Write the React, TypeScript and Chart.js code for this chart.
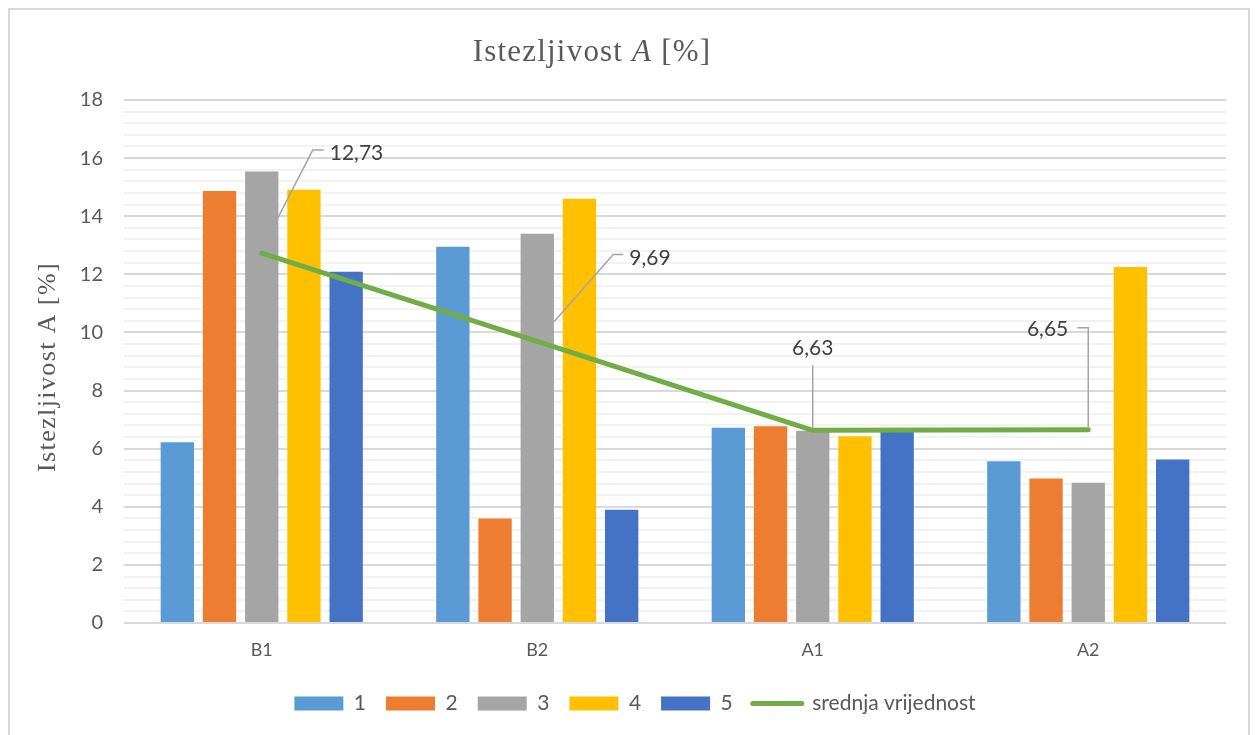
import React, { useEffect, useRef } from 'react';
import { Chart, registerables } from 'chart.js';

Chart.register(...registerables);

const categories = ['B1', 'B2', 'A1', 'A2'];
const seriesNames = ['1', '2', '3', '4', '5'];
const series1 = [6.22, 12.95, 6.72, 5.57];
const series2 = [14.87, 3.6, 6.77, 4.97];
const series3 = [15.54, 13.4, 6.62, 4.83];
const series4 = [14.91, 14.6, 6.43, 12.25];
const series5 = [12.09, 3.9, 6.61, 5.63];
const meanName = 'srednja vrijednost';
const meanValues = [12.73, 9.69, 6.63, 6.65];
const meanLabels = ['12,73', '9,69', '6,63', '6,65'];

const barColors = ['#5b9bd5', '#ed7d31', '#a5a5a5', '#ffc000', '#4472c4'];
const lineColor = '#70ad47';
const SANS = 'Lato, "Open Sans", sans-serif';
const SERIF = '"Liberation Serif", "Times New Roman", serif';

// leader line geometry relative to each mean point (pixels)
const leaderStyles = [
  { path: [[16, -35], [51, -103], [62, -103]], text: [68, -100], align: 'left' },
  { path: [[17, -20], [76, -87], [86, -87]], text: [92, -83], align: 'left' },
  { path: [[0, -65], [0, -2]], text: [0, -82], align: 'center' },
  { path: [[-11, -102], [0, -102], [0, -2]], text: [-20, -101], align: 'right' },
];

const isMajor = (v: number) => Math.abs(v / 2 - Math.round(v / 2)) < 1e-6;

const decorPlugin = {
  id: 'decor',
  afterLayout(chart: any) {
    const lg = chart.legend;
    if (lg) {
      lg.left += 17;
      lg.right += 17;
      if (lg.legendHitBoxes) lg.legendHitBoxes.forEach((h: any) => { h.left += 17; });
    }
  },
  afterDatasetsDraw(chart: any) {
    const ctx = chart.ctx as CanvasRenderingContext2D;
    const meta = chart.getDatasetMeta(5);
    ctx.save();
    meta.data.forEach((pt: any, i: number) => {
      const st = leaderStyles[i];
      if (!st) return;
      ctx.beginPath();
      ctx.strokeStyle = '#a5a5a5';
      ctx.lineWidth = 1.5;
      st.path.forEach((p, j) => {
        const x = pt.x + p[0];
        const y = pt.y + p[1];
        if (j === 0) ctx.moveTo(x, y);
        else ctx.lineTo(x, y);
      });
      ctx.stroke();
      ctx.fillStyle = '#404040';
      ctx.font = `21px ${SANS}`;
      ctx.textAlign = st.align as CanvasTextAlign;
      ctx.textBaseline = 'middle';
      ctx.fillText(meanLabels[i], pt.x + st.text[0], pt.y + st.text[1]);
    });
    ctx.restore();
  },
  afterDraw(chart: any) {
    const ctx = chart.ctx as any;
    ctx.save();
    ctx.fillStyle = '#595959';
    ctx.textBaseline = 'alphabetic';
    ctx.textAlign = 'left';
    try { ctx.letterSpacing = '1.2px'; } catch (e) {}
    // main title with italic A
    const parts = [
      { t: 'Istezljivost ', f: `31px ${SERIF}` },
      { t: 'A', f: `italic 31px ${SERIF}` },
      { t: ' [%]', f: `31px ${SERIF}` },
    ];
    let total = 0;
    const widths = parts.map((p) => {
      ctx.font = p.f;
      const w = ctx.measureText(p.t).width;
      total += w;
      return w;
    });
    let x = 582 - total / 2;
    parts.forEach((p, i) => {
      ctx.font = p.f;
      ctx.fillText(p.t, x, 51);
      x += widths[i];
    });
    // y axis title
    try { ctx.letterSpacing = '1.4px'; } catch (e) {}
    ctx.font = `26px ${SERIF}`;
    ctx.translate(45, 357);
    ctx.rotate(-Math.PI / 2);
    ctx.textAlign = 'center';
    ctx.fillText('Istezljivost A [%]', 0, 0);
    ctx.restore();
  },
};

export default function App() {
  const ref = useRef<HTMLCanvasElement | null>(null);
  useEffect(() => {
    document.documentElement.style.overflow = 'hidden';
    document.body.style.overflow = 'hidden';
    const all = [series1, series2, series3, series4, series5];
    const datasets: any[] = all.map((d, i) => ({
      type: 'bar',
      label: seriesNames[i],
      data: d,
      backgroundColor: barColors[i],
      borderWidth: 0,
      categoryPercentage: 0.766,
      barPercentage: 0.79,
      order: 1,
    }));
    datasets.push({
      type: 'line',
      label: meanName,
      data: meanValues,
      borderColor: lineColor,
      backgroundColor: lineColor,
      borderWidth: 5,
      borderCapStyle: 'round',
      borderJoinStyle: 'round',
      pointRadius: 0,
      tension: 0,
      order: 0,
    });
    const chart = new Chart(ref.current as HTMLCanvasElement, {
      type: 'bar',
      data: { labels: categories, datasets },
      options: {
        animation: false,
        responsive: false,
        devicePixelRatio: 1,
        layout: { padding: { top: 90, right: 22, bottom: 22, left: 0 } },
        plugins: {
          title: { display: false },
          tooltip: { enabled: false },
          legend: {
            position: 'bottom',
            labels: {
              usePointStyle: true,
              pointStyleWidth: 49,
              boxHeight: 14,
              padding: 20,
              color: '#595959',
              font: { family: SANS, size: 21 },
              generateLabels: (ch: any) =>
                ch.data.datasets.map((ds: any, i: number) => ({
                  text: ds.label,
                  fillStyle: ds.type === 'line' ? 'rgba(0,0,0,0)' : ds.backgroundColor,
                  strokeStyle: ds.type === 'line' ? ds.borderColor : ds.backgroundColor,
                  lineWidth: ds.type === 'line' ? 5 : 0,
                  lineCap: 'round',
                  pointStyle: ds.type === 'line' ? 'line' : 'rect',
                  fontColor: '#595959',
                  hidden: false,
                  datasetIndex: i,
                })),
            },
          },
        },
        scales: {
          x: {
            grid: { display: false, drawTicks: false },
            border: { display: false },
            ticks: { color: '#595959', font: { family: SANS, size: 18 }, padding: 16 },
            afterFit: (s: any) => { s.height = 50; },
          },
          y: {
            min: 0,
            max: 18,
            border: { display: false },
            grid: {
              drawTicks: false,
              lineWidth: 2,
              color: (c: any) => (c.tick && isMajor(c.tick.value) ? '#d9d9d9' : '#f2f2f2'),
            },
            ticks: {
              stepSize: 0.4,
              autoSkip: false,
              padding: 21,
              color: '#595959',
              font: { family: SANS, size: 20 },
              callback: (v: any) => (isMajor(Number(v)) ? String(Math.round(Number(v))) : ''),
            },
            afterFit: (s: any) => { s.width = 114; },
          },
        },
      },
      plugins: [decorPlugin],
    } as any);
    return () => chart.destroy();
  }, []);
  return (
    <div
      style={{
        width: 1242,
        height: 740,
        border: '2px solid #d9d9d9',
        boxSizing: 'border-box',
        background: '#fff',
      }}
    >
      <canvas ref={ref} width={1238} height={736} style={{ display: 'block' }} />
    </div>
  );
}
